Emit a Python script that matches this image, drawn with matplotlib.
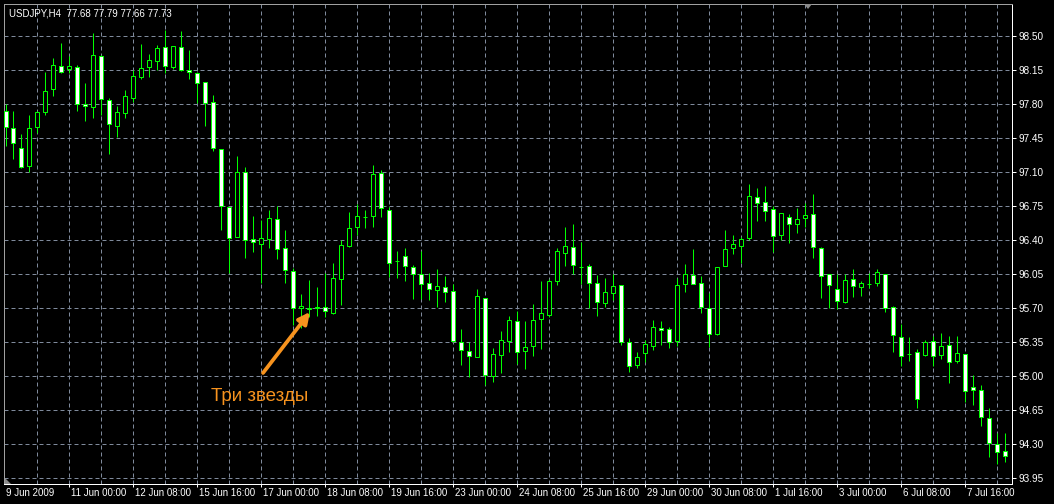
import matplotlib
matplotlib.use("Agg")
import matplotlib.pyplot as plt
from matplotlib.patches import Rectangle, Polygon
import matplotlib.transforms as mtransforms

# ---------------- data (H4 candles, index 0 = 9 Jun 2009 16:00) ----------------
opens = [97.72, 97.55, 97.34, 97.16, 97.56, 97.71, 97.95, 98.19, 98.16, 98.18,
         97.80, 97.76, 98.29, 97.84, 97.57, 97.70, 97.86, 98.07, 98.18, 98.24,
         98.38, 98.18, 98.38, 98.14, 98.11, 98.02, 97.82, 97.33, 96.73, 96.43,
         97.09, 96.41, 96.35, 96.41, 96.61, 96.31, 96.08, 95.69, 95.68, 95.70,
         95.71, 95.64, 95.99, 96.33, 96.53, 96.63, 96.64, 97.08, 96.70, 96.18,
         96.23, 96.12, 96.05, 95.95, 95.88, 95.91, 95.87, 95.35, 95.25, 95.19,
         95.80, 94.99, 95.21, 95.36, 95.56, 95.25, 95.30, 95.58, 95.62, 95.97,
         96.26, 96.32, 96.12, 96.13, 95.95, 95.75, 95.85, 95.93, 95.34, 95.11,
         95.23, 95.30, 95.49, 95.48, 95.36, 95.94, 96.03, 95.95, 95.70, 95.43,
         96.13, 96.31, 96.33, 96.42, 96.84, 96.79, 96.71, 96.45, 96.63, 96.56,
         96.62, 96.66, 96.31, 96.04, 95.89, 95.76, 95.99, 95.91, 95.94, 95.95,
         96.04, 95.71, 95.40, 95.22, 95.24, 95.21, 95.36, 95.21, 95.31, 95.15,
         95.22, 94.88, 94.85, 94.56, 94.30, 94.22]
highs = [97.80, 97.72, 97.49, 97.68, 97.72, 98.12, 98.27, 98.42, 98.29, 98.20,
         98.01, 98.53, 98.30, 97.86, 97.77, 97.94, 98.14, 98.41, 98.31, 98.40,
         98.56, 98.39, 98.55, 98.35, 98.12, 98.02, 97.89, 97.33, 96.73, 97.26,
         97.15, 96.64, 96.60, 96.70, 96.75, 96.50, 96.11, 95.84, 95.98, 95.91,
         96.06, 96.16, 96.39, 96.68, 96.77, 96.70, 97.17, 97.12, 96.73, 96.28,
         96.31, 96.14, 96.28, 96.06, 96.10, 96.02, 95.94, 95.48, 95.35, 95.89,
         95.80, 95.28, 95.46, 95.61, 95.66, 95.56, 95.74, 95.97, 95.99, 96.31,
         96.53, 96.56, 96.37, 96.15, 96.03, 96.00, 96.04, 95.93, 95.39, 95.24,
         95.37, 95.57, 95.56, 95.50, 96.00, 96.15, 96.30, 96.02, 95.85, 96.12,
         96.50, 96.45, 96.43, 96.97, 96.93, 96.95, 96.74, 96.67, 96.66, 96.72,
         96.78, 96.87, 96.32, 96.05, 96.04, 96.04, 96.10, 95.97, 96.06, 96.10,
         96.05, 95.72, 95.53, 95.40, 95.27, 95.37, 95.41, 95.44, 95.41, 95.41,
         95.22, 95.01, 94.90, 94.67, 94.41, 94.41]
lows = [97.36, 97.23, 97.14, 97.09, 97.50, 97.68, 97.88, 98.11, 98.11, 97.72,
        97.62, 97.65, 97.68, 97.28, 97.46, 97.65, 97.82, 98.05, 98.07, 98.15,
        98.11, 98.16, 98.13, 98.05, 97.81, 97.57, 97.31, 96.50, 96.06, 96.43,
        96.21, 96.27, 95.95, 96.31, 96.20, 95.95, 95.52, 95.49, 95.60, 95.61,
        95.60, 95.63, 95.73, 96.32, 96.45, 96.52, 96.53, 96.63, 96.01, 96.00,
        95.97, 95.79, 95.79, 95.78, 95.71, 95.76, 95.34, 95.11, 94.98, 95.19,
        94.90, 94.93, 95.03, 95.24, 95.12, 95.07, 95.20, 95.27, 95.60, 95.93,
        96.13, 96.04, 95.94, 95.70, 95.61, 95.71, 95.78, 95.31, 95.04, 95.08,
        95.14, 95.26, 95.31, 95.28, 95.30, 95.86, 95.94, 95.64, 95.29, 95.42,
        96.13, 96.25, 96.16, 96.40, 96.59, 96.59, 96.27, 96.39, 96.36, 96.47,
        96.53, 96.21, 95.80, 95.69, 95.68, 95.75, 95.81, 95.82, 95.90, 95.92,
        95.65, 95.24, 95.10, 95.15, 94.67, 95.20, 95.10, 95.17, 94.92, 95.13,
        94.73, 94.70, 94.48, 94.16, 94.09, 94.11]
closes = [97.56, 97.39, 97.15, 97.55, 97.71, 97.93, 98.20, 98.12, 98.19, 97.79,
          97.77, 98.30, 97.85, 97.59, 97.71, 97.88, 98.08, 98.17, 98.25, 98.37,
          98.19, 98.39, 98.15, 98.12, 98.01, 97.81, 97.34, 96.74, 96.42, 97.10,
          96.40, 96.37, 96.42, 96.62, 96.30, 96.09, 95.70, 95.72, 95.70, 95.71,
          95.66, 96.00, 96.34, 96.52, 96.64, 96.63, 97.07, 96.72, 96.16, 96.18,
          96.13, 96.05, 95.94, 95.89, 95.92, 95.86, 95.36, 95.26, 95.20, 95.82,
          95.01, 95.22, 95.37, 95.57, 95.24, 95.29, 95.57, 95.64, 95.97, 96.28,
          96.33, 96.14, 96.12, 95.95, 95.76, 95.86, 95.92, 95.35, 95.10, 95.19,
          95.32, 95.50, 95.47, 95.35, 95.93, 96.05, 95.94, 95.71, 95.43, 96.12,
          96.30, 96.35, 96.41, 96.85, 96.78, 96.69, 96.44, 96.67, 96.56, 96.61,
          96.65, 96.32, 96.02, 95.93, 95.77, 95.98, 95.92, 95.95, 95.94, 96.07,
          95.70, 95.42, 95.20, 95.22, 94.76, 95.34, 95.20, 95.30, 95.14, 95.23,
          94.84, 94.85, 94.57, 94.31, 94.21, 94.17]

price_levels = [98.50, 98.15, 97.80, 97.45, 97.10, 96.75, 96.40,
                96.05, 95.70, 95.35, 95.00, 94.65, 94.30, 93.95]
price_labels = ["98.50", "98.15", "97.80", "97.45", "97.10", "96.75", "96.40",
                "96.05", "95.70", "95.35", "95.00", "94.65", "94.30", "93.95"]
time_label_idx = [8, 16, 24, 32, 40, 48, 56, 64, 72, 80, 88, 96, 104, 112, 120]
time_labels = ["11 Jun 00:00", "12 Jun 08:00", "15 Jun 16:00", "17 Jun 00:00",
               "18 Jun 08:00", "19 Jun 16:00", "23 Jun 00:00", "24 Jun 08:00",
               "25 Jun 16:00", "29 Jun 00:00", "30 Jun 08:00", "1 Jul 16:00",
               "3 Jul 00:00", "6 Jul 08:00", "7 Jul 16:00"]
first_label = "9 Jun 2009"
title = "USDJPY,H4  77.68 77.79 77.66 77.73"
note = "Три звезды"

# ---------------- style ----------------
W, H = 1054, 504
GREEN = "#00FF00"
GRID = "#7F8A9C"
ORANGE = "#F7931E"
FONT = ["Liberation Sans", "DejaVu Sans"]
PX = 0.72  # one pixel in points at 100 dpi

fig = plt.figure(figsize=(W / 100, H / 100), dpi=100, facecolor="black")
ax = fig.add_axes([4 / W, 20 / H, 1008 / W, 480 / H])
ax.set_facecolor("black")

bar_px = 8.0
x0 = -1.5 / bar_px
ax.set_xlim(x0, x0 + 1008 / bar_px)
ppu = 34 / 0.35
ax.set_ylim(98.50 - (484 - 35.5) / ppu, 98.50 + (35.5 - 4) / ppu)

# grid
for p in price_levels:
    ax.axhline(p, color=GRID, lw=PX, dashes=(4, 3), zorder=0)
n = len(opens)
for i in range(4, n, 4):
    ax.axvline(i, color=GRID, lw=PX, dashes=(4, 3), zorder=0)

# candles
idx = list(range(n))
ax.vlines(idx, lows, highs, color=GREEN, lw=PX, zorder=2)
bw = 0.5
for i, o, c in zip(idx, opens, closes):
    fc = "white" if c < o else "black"
    ax.add_patch(Rectangle((i - bw / 2, min(o, c)), bw, abs(c - o),
                           facecolor=fc, edgecolor=GREEN, lw=PX, zorder=3))

# spines
for s in ["right", "bottom"]:
    ax.spines[s].set_color("white")
    ax.spines[s].set_linewidth(PX)
for s in ["top", "left"]:
    ax.spines[s].set_color("#A0A0A0")
    ax.spines[s].set_linewidth(PX)

# y axis on right
ax.yaxis.tick_right()
ax.set_yticks(price_levels)
ax.set_yticklabels(price_labels, fontfamily=FONT, fontsize=7.2, color="white")
ax.tick_params(axis="y", length=4 * PX, width=PX, color="white", pad=2)

# x axis
ax.set_xticks(time_label_idx)
ax.set_xticklabels([])
ax.tick_params(axis="x", length=3 * PX, width=PX, color="white")
xtrans = mtransforms.blended_transform_factory(ax.transData, ax.transAxes)
off = mtransforms.ScaledTranslation(1.5 / 100, -4 / 100, fig.dpi_scale_trans)
for i, lab in zip(time_label_idx, time_labels):
    ax.text(i, 0, lab, transform=xtrans + off, ha="left", va="top",
            fontfamily=FONT, fontsize=7, color="white", clip_on=False)
ax.text(0, 0, first_label, transform=ax.transAxes + off, ha="left", va="top",
        fontfamily=FONT, fontsize=7, color="white", clip_on=False)

# title
fig.text(9 / W, 1 - 13 / H, title, ha="left", va="center",
         fontfamily=FONT, fontsize=7, color="white")

# small chart-shift / corner markers
fig.patches.append(Polygon([[804 / W, 1 - 4 / H], [812 / W, 1 - 4 / H], [808 / W, 1 - 9 / H]],
                           closed=True, transform=fig.transFigure, facecolor="#8A8A8A",
                           edgecolor="none"))
fig.patches.append(Polygon([[5 / W, 1 - 478 / H], [5 / W, 1 - 484 / H], [11 / W, 1 - 484 / H]],
                           closed=True, transform=fig.transFigure, facecolor="#8A8A8A",
                           edgecolor="none"))

# annotation
ax.annotate("", xy=(38.06, 95.654), xytext=(32.19, 95.026),
            arrowprops=dict(arrowstyle="-|>", color=ORANGE, lw=2.7,
                            mutation_scale=17, shrinkA=0, shrinkB=0), zorder=5)
ax.text(31.81, 94.78, note, ha="center", va="center", fontfamily=FONT,
        fontsize=13.5, color=ORANGE, zorder=5)

fig.savefig("out.png", dpi=100, facecolor="black")
